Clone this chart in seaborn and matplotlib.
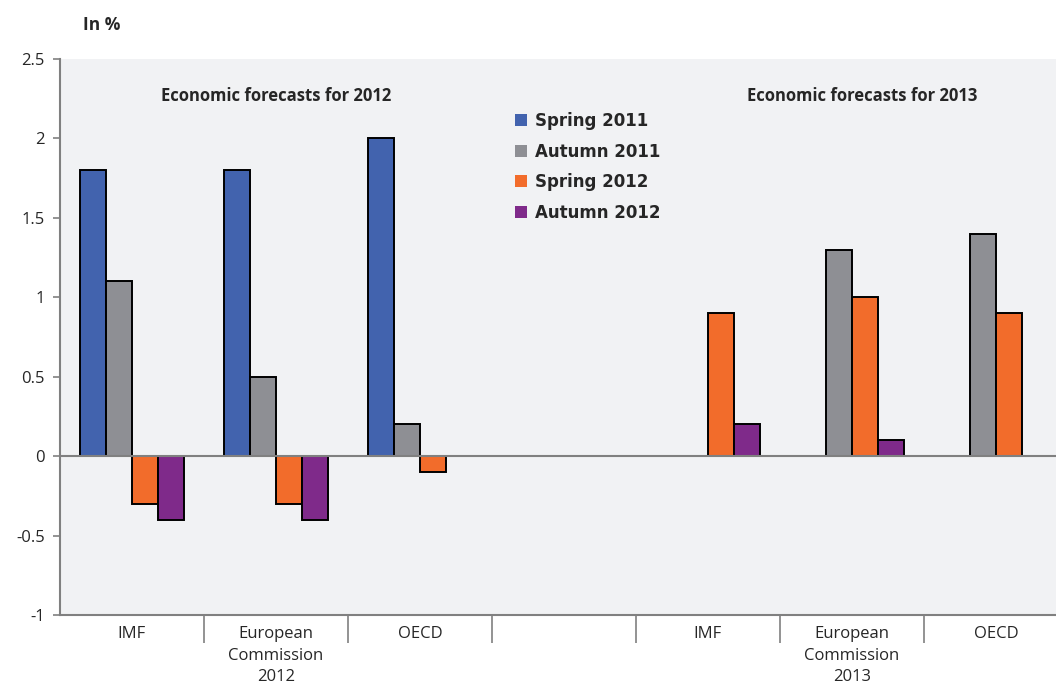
import pandas as pd
import numpy as np
import matplotlib
matplotlib.use("Agg")
import matplotlib.pyplot as plt
import seaborn as sns

#=============================================================================
# Data
#=============================================================================
groups = ["IMF 2012", "EC 2012", "OECD 2012", "gap", "IMF 2013", "EC 2013", "OECD 2013"]
group_labels = ["IMF", "European\nCommission\n2012", "OECD", "",
                "IMF", "European\nCommission\n2013", "OECD"]
series = ["Spring 2011", "Autumn 2011", "Spring 2012", "Autumn 2012"]

spring_2011 = [1.8, 1.8, 2.0, np.nan, np.nan, np.nan, np.nan]
autumn_2011 = [1.1, 0.5, 0.2, np.nan, np.nan, 1.3, 1.4]
spring_2012 = [-0.3, -0.3, -0.1, np.nan, 0.9, 1.0, 0.9]
autumn_2012 = [-0.4, -0.4, np.nan, np.nan, 0.2, 0.1, np.nan]

colors = ["#4263ae", "#8e8f94", "#f26c2b", "#7f2a8a"]

df = pd.DataFrame({
    "group": groups * 4,
    "series": np.repeat(series, len(groups)),
    "value": spring_2011 + autumn_2011 + spring_2012 + autumn_2012,
})

#=============================================================================
# Plot
#=============================================================================
sns.set_style("white")
plt.rcParams["font.family"] = ["Open Sans", "DejaVu Sans"]

fig = plt.figure(figsize=(10.56, 6.93), dpi=100)
ax = fig.add_axes([60 / 1056, 78 / 693, 1 - 60 / 1056, 556 / 693])
ax.set_facecolor("#f1f2f4")

sns.barplot(
    data=df.dropna(),
    x="group",
    y="value",
    hue="series",
    order=groups,
    hue_order=series,
    palette=colors,
    width=0.72,
    edgecolor="black",
    linewidth=1.4,
    saturation=1,
    ax=ax,
)

ax.set_xlim(-0.5, 6.417)
ax.set_ylim(-1, 2.5)
ax.set_yticks([-1, -0.5, 0, 0.5, 1, 1.5, 2, 2.5])
ax.set_yticklabels(["-1", "-0.5", "0", "0.5", "1", "1.5", "2", "2.5"], fontsize=12)
ax.axhline(0, color="#808080", lw=1.5, zorder=1)

# category labels + separators
ax.set_xticks(range(len(groups)))
ax.set_xticklabels(group_labels, fontsize=12, linespacing=1.45)
ax.set_xticks(np.arange(0.5, 6, 1), minor=True)
ax.tick_params(axis="x", which="major", bottom=True, length=0, pad=8)
ax.tick_params(axis="x", which="minor", bottom=True, length=20, width=1.2,
               color="#808080", direction="out")
ax.tick_params(axis="y", left=True, length=5, width=1.2, color="#808080",
               direction="out", pad=6)

ax.set_xlabel("")
ax.set_ylabel("")
for side in ["top", "right"]:
    ax.spines[side].set_visible(False)
for side in ["left", "bottom"]:
    ax.spines[side].set_color("#808080")
    ax.spines[side].set_linewidth(1.5)

# annotations
ax.text(1.0, 2.27, "Economic forecasts for 2012", ha="center", va="center",
        fontsize=12, fontweight="bold")
ax.text(5.07, 2.27, "Economic forecasts for 2013", ha="center", va="center",
        fontsize=12, fontweight="bold")
fig.text(83 / 1056, 1 - 25 / 693, "In %", ha="left", va="center",
         fontsize=12.5, fontweight="bold")

# legend
handles, labels = ax.get_legend_handles_labels()
leg = ax.legend(
    handles, labels,
    loc="upper left",
    bbox_to_anchor=(440 / 996, 1 - 38 / 556),
    frameon=False,
    prop={"size": 12, "weight": "bold", "family": "DejaVu Sans"},
    handlelength=0.7,
    handleheight=0.7,
    handletextpad=0.5,
    labelspacing=0.75,
)
for h in leg.legend_handles:
    h.set_edgecolor("none")

fig.savefig("out.png", dpi=100)
